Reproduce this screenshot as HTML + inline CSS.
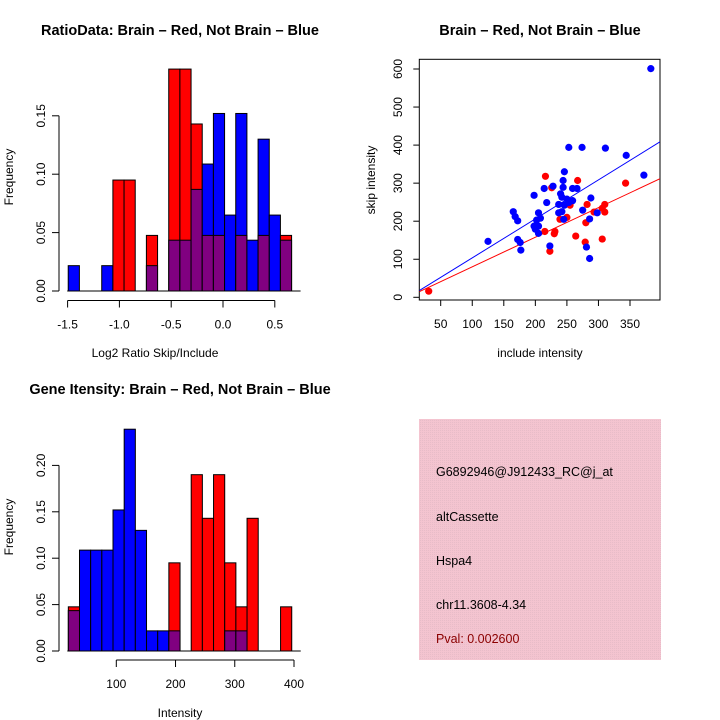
<!DOCTYPE html>
<html><head><meta charset="utf-8"><style>
body{margin:0;background:#fff}
svg{display:block;font-family:"Liberation Sans",sans-serif}
</style></head><body>
<svg id="s" width="720" height="720" xmlns="http://www.w3.org/2000/svg">
<defs><pattern id="pk" width="2" height="2" patternUnits="userSpaceOnUse"><rect width="2" height="2" fill="#f4c4d0"/><rect width="1" height="1" fill="#e8bcc8"/></pattern></defs>
<rect width="720" height="720" fill="#fff"/>
<text x="180" y="35" text-anchor="middle" font-size="14.5" font-weight="bold">RatioData: Brain – Red, Not Brain – Blue</text>
<text x="540" y="35" text-anchor="middle" font-size="14.5" font-weight="bold">Brain – Red, Not Brain – Blue</text>
<text x="180" y="394" text-anchor="middle" font-size="14.5" font-weight="bold">Gene Itensity: Brain – Red, Not Brain – Blue</text>
<text x="155" y="357" text-anchor="middle" font-size="12">Log2 Ratio Skip/Include</text>
<text transform="translate(13,177) rotate(-90)" text-anchor="middle" font-size="12">Frequency</text>
<text x="540" y="357" text-anchor="middle" font-size="12">include intensity</text>
<text transform="translate(375,180) rotate(-90)" text-anchor="middle" font-size="12">skip intensity</text>
<text x="180" y="717" text-anchor="middle" font-size="12">Intensity</text>
<text transform="translate(13,527) rotate(-90)" text-anchor="middle" font-size="12">Frequency</text>
<g>
<rect x="419" y="419" width="242" height="241" fill="url(#pk)"/>
<text x="436" y="476" font-size="12.5">G6892946@J912433_RC@j_at</text>
<text x="436" y="521" font-size="12.5">altCassette</text>
<text x="436" y="565" font-size="12.5">Hspa4</text>
<text x="436" y="609" font-size="12.5">chr11.3608-4.34</text>
<text x="436" y="643" font-size="12.5" fill="#8b0000">Pval: 0.002600</text>
</g>
<g id="h1"></g><g id="h2"></g><g id="sc"></g>
</svg>
<script>
// Histogram 1 (log2 ratio)
const ratioBlue=[0.0217,0,0,0.0217,0,0,0,0.0217,0,0.0435,0.0435,0.087,0.1087,0.152,0.065,0.152,0.0435,0.130,0.065,0.0435];
const ratioRed=[0,0,0,0,0.095,0.095,0,0.0476,0,0.19,0.19,0.143,0.0476,0.0476,0,0.0476,0,0.0476,0,0.0476];
const ratioXTicks=[-1.5,-1.0,-0.5,0.0,0.5];
const ratioYTicks=[0.00,0.05,0.10,0.15];
// Histogram 2 (intensity)
const intBlue=[0.0435,0.1087,0.1087,0.1087,0.152,0.239,0.130,0.0217,0.0217,0.0217,0,0,0,0,0.0217,0.0217,0,0,0,0];
const intRed=[0.0476,0,0,0,0,0,0,0,0,0.095,0,0.19,0.143,0.19,0.095,0.0476,0.143,0,0,0.0476];
const intXTicks=[100,200,300,400];
const intYTicks=[0.00,0.05,0.10,0.15,0.20];
// Scatter
const blueX=[383,253,274,311,344,372,246,244,228,214,244,259,266,198,240,242,250,288,218,259,253,237,246,275,298,165,205,237,242,168,172,208,202,286,245,198,205,200,205,125,172,176,177,223,281,286];
const blueY=[601,394,394,392,373,321,330,307,292,286,289,286,286,268,272,263,258,261,249,254,249,244,242,229,222,225,222,222,225,212,201,208,203,206,205,187,187,179,168,147,152,144,124,135,132,102];
const redX=[31,216,267,226,343,255,282,310,293,310,306,250,239,280,215,231,230,264,279,306,223];
const redY=[16,318,307,288,300,242,244,244,224,224,234,210,205,196,173,173,167,161,145,153,121];
const scXTicks=[50,100,150,200,250,300,350];
const scYTicks=[0,100,200,300,400,500,600];
const blueFit=[1.1,1.025], redFit=[2.3,0.778];

const NS="http://www.w3.org/2000/svg";
function mk(p,t,a){const e=document.createElementNS(NS,t);for(const k in a)e.setAttribute(k,a[k]);p.appendChild(e);return e;}

function hist(g,blue,red,x0,bw,xs,y0,ys,xticks,yticks,axY,xFmt,yFmt){
  const X=v=>xs(v),Y=v=>y0-v*ys;
  for(let i=0;i<blue.length;i++){
    const l=X(x0+i*bw),r=X(x0+(i+1)*bw),b=blue[i],rd=red[i];
    if(b>0||rd>0){
      const mx=Math.max(b,rd),col=rd>=b?'#ff0000':'#0000ff';
      const e=mk(g,'rect',{x:l,y:Y(mx),width:r-l,height:Y(0)-Y(mx),fill:col,stroke:'#000','stroke-width':1});
      
      
      const mn=Math.min(b,rd);
      if(mn>0){const p=mk(g,'rect',{x:l,y:Y(mn),width:r-l,height:Y(0)-Y(mn),fill:'#800080',stroke:'#000','stroke-width':1});
        
        }
    }
  }
  mk(g,'line',{x1:X(x0)-1,x2:X(x0+blue.length*bw)+9,y1:Y(0),y2:Y(0),stroke:'#000'});
  const ya=mk(g,'g',{});
  
  
  mk(ya,'line',{x1:59,x2:59,y1:Y(yticks[0]),y2:Y(yticks[yticks.length-1]),stroke:'#000'});
  yticks.forEach(t=>{mk(ya,'line',{x1:52,x2:59,y1:Y(t),y2:Y(t),stroke:'#000'});
    const tx=mk(ya,'text',{transform:`translate(45,${Y(t)}) rotate(-90)`,'text-anchor':'middle','font-size':12});tx.textContent=yFmt(t);});
  const xa=mk(g,'g',{});
  
  
  mk(xa,'line',{x1:X(xticks[0]),x2:X(xticks[xticks.length-1]),y1:axY,y2:axY,stroke:'#000'});
  xticks.forEach(t=>{mk(xa,'line',{x1:X(t),x2:X(t),y1:axY,y2:axY+7,stroke:'#000'});
    const tx=mk(xa,'text',{x:X(t),y:axY+28,'text-anchor':'middle','font-size':12});tx.textContent=xFmt(t);});
}
hist(document.getElementById('h1'),ratioBlue,ratioRed,-1.494,0.1078,v=>223+v*103.6,291,1168,ratioXTicks,ratioYTicks,300.5,
  t=>t===0?'0.0':t.toFixed(1),t=>t.toFixed(2));
hist(document.getElementById('h2'),intBlue,intRed,19,18.86,v=>116.3+(v-100)*0.5923,651,928,intXTicks,intYTicks,660,
  t=>String(t),t=>t.toFixed(2));

(function(){
  const g=document.getElementById('sc');
  const L=419.3,R=660,T=59.3,B=300;
  const X=v=>440.7+(v-50)*0.631,Y=v=>297.3-v*0.3805;
  const vmin=(L-440.7)/0.631+50,vmax=(R-440.7)/0.631+50;
  const fr=mk(g,'rect',{x:L,y:T,width:R-L,height:B-T,fill:'none',stroke:'#000'});
  
  
  scXTicks.forEach(t=>{mk(g,'line',{x1:X(t),x2:X(t),y1:B,y2:B+6,stroke:'#000'});
    const tx=mk(g,'text',{x:X(t),y:328,'text-anchor':'middle','font-size':12});tx.textContent=t;});
  scYTicks.forEach(t=>{mk(g,'line',{x1:L-6,x2:L,y1:Y(t),y2:Y(t),stroke:'#000'});
    const tx=mk(g,'text',{transform:`translate(402,${Y(t)}) rotate(-90)`,'text-anchor':'middle','font-size':12});tx.textContent=t;});
  const cp=mk(g,'clipPath',{id:'cp'});mk(cp,'rect',{x:L,y:T,width:R-L,height:B-T});
  [[blueFit,'#0000ff','blue-fit-line'],[redFit,'#ff0000','red-fit-line']].forEach(([f,c,n])=>{
    const l=mk(g,'line',{x1:X(vmin),y1:Y(f[0]+f[1]*vmin),x2:X(vmax),y2:Y(f[0]+f[1]*vmax),stroke:c,'clip-path':'url(#cp)'});
    
    
  });
  redX.forEach((x,i)=>{const c=mk(g,'circle',{cx:X(x),cy:Y(redY[i]),r:3.6,fill:'#ff0000'});
    
    });
  blueX.forEach((x,i)=>{const c=mk(g,'circle',{cx:X(x),cy:Y(blueY[i]),r:3.6,fill:'#0000ff'});
    
    });
})();
</script>
</body></html>
